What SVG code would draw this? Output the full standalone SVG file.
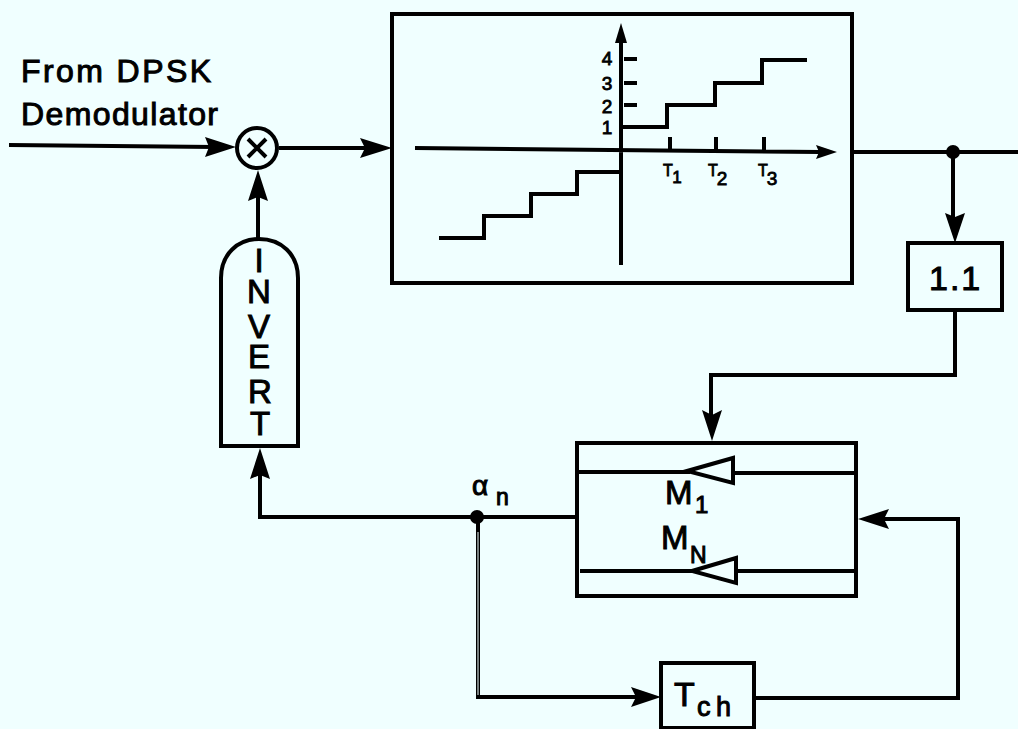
<svg xmlns="http://www.w3.org/2000/svg" width="1018" height="729" viewBox="0 0 1018 729">
<style>
.l{fill:none;stroke:#000;stroke-width:4;stroke-linejoin:miter}
.s{font-family:"Liberation Sans",Arial,sans-serif;fill:#000;stroke:#000;stroke-width:1}
.a{fill:#000;stroke:none}
.b{fill:#f0ffff;stroke:#000;stroke-width:4}
</style>
<rect width="1018" height="729" fill="#f0ffff"/>
<g id="connectors">
<path class="l" d="M9 145L215 147"/><polygon class="a" points="236,147 205,137 209,147 205,157"/>
<path class="l" d="M279 148H370"/><polygon class="a" points="392,148 360,138 365,148 360,158"/>
<path class="l" d="M258 238V190"/><polygon class="a" points="258,170 248,201 258,197 268,201"/>
<path class="l" d="M853 152H1018"/>
<circle class="a" cx="953" cy="152" r="7"/>
<path class="l" d="M953 152V225"/><polygon class="a" points="955,243 945,213 955,217 965,213"/>
<path class="l" d="M955 310V375H711V420"/><polygon class="a" points="712,441 702,410 712,415 722,410"/>
<path class="l" d="M577 517H260V470"/><polygon class="a" points="260,448 250,479 260,475 270,479"/>
<path class="l" d="M478 517V697H640"/><polygon class="a" points="661,697 631,687 636,697 631,707"/>
<path d="M478 532V695" stroke="#f0ffff" stroke-width="1" fill="none"/>
<circle class="a" cx="477" cy="517" r="7"/>
<path class="l" d="M755 698H958V519H880"/><polygon class="a" points="858,519 889,509 884,519 889,529"/>
</g>
<g id="multiplier"><circle class="b" cx="257" cy="148" r="20"/><path class="l" d="M248 139L266 157M266 139L248 157"/></g>
<g id="input-label"><text class="s" x="21" y="82" font-size="32" textLength="190">From DPSK</text><text class="s" x="21" y="125" font-size="32" textLength="197">Demodulator</text></g>
<g id="invert"><path class="b" d="M221 446V278C221 254 238 239 259 239C281 239 298 254 298 278V446Z"/>
<text class="s" font-size="33" text-anchor="middle" x="259 259 259 259 260 260" y="272 303 338 368 403 435">INVERT</text></g>
<g id="quantizer"><rect class="l" x="392" y="14" width="460" height="269"/>
<path class="l" d="M415 148L820 152M621 40V265M670 137V150M716 137V150M764 137V150M624 59H637M624 83H637M624 105H637"/>
<polygon class="a" points="837,152 816,145 819,152 816,159"/><polygon class="a" points="621,23 615,43 627,43"/>
<path class="l" d="M623 127H667V105H715V83H762V60H807M621 172H577V194H531V216H484V238H439"/>
<g class="s" text-anchor="middle" style="stroke-width:.8"><text x="607" y="65" font-size="19">4</text><text x="607" y="90" font-size="19">3</text><text x="607" y="113" font-size="19">2</text><text x="607" y="134" font-size="19">1</text><text x="668" y="176" font-size="16">T</text><text x="677" y="183" font-size="17">1</text><text x="713" y="176" font-size="16">T</text><text x="722" y="185" font-size="19">2</text><text x="763" y="176" font-size="16">T</text><text x="772" y="185" font-size="19">3</text></g></g>
<g id="gain"><rect class="l" x="908" y="243" width="94" height="67"/><text class="s" x="929" y="290" font-size="34" letter-spacing="2">1.1</text></g>
<g id="memory"><rect class="l" x="577" y="443" width="279" height="153"/>
<path class="l" d="M578 472H690M733 473H856M580 571H695M736 571H856"/>
<polygon class="b" points="687,471 733,458 733,483"/><polygon class="b" points="692,571 736,558 736,583"/>
<text class="s" x="665" y="504" font-size="33">M</text><text class="s" x="695" y="513" font-size="24">1</text><text class="s" x="661" y="549" font-size="33">M</text><text class="s" x="690" y="563" font-size="23">N</text></g>
<g id="delay"><rect class="l" x="661" y="663" width="93" height="65"/><text class="s" x="674" y="706" font-size="34">T</text><text class="s" x="697" y="716" font-size="27" textLength="34">ch</text></g>
<g id="alpha-label"><text class="s" x="472" y="495" font-size="28">α</text><text class="s" x="496" y="505" font-size="23">n</text></g>
</svg>
